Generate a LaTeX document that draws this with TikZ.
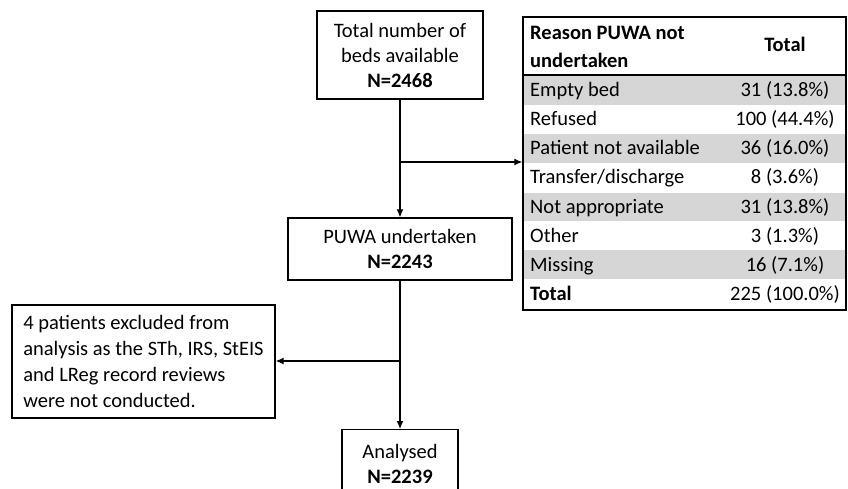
\documentclass[tikz,border=0pt]{standalone}
\usepackage{fontspec}
\setmainfont{Carlito}
\usetikzlibrary{arrows.meta}
\definecolor{rowgray}{RGB}{214,214,214}
\begin{document}
\begin{tikzpicture}[x=1pt,y=-1pt,
  box/.style={draw=black,line width=1.4pt,inner sep=0pt,font=\fontsize{20.5}{25}\selectfont,align=center},
  arr/.style={line width=1.2pt,-{Latex[length=8pt,width=7pt]}},
  cell/.style={font=\fontsize{20.5}{22}\selectfont,inner sep=0pt,text height=14pt,text depth=4pt},
  grayrow/.style={fill=rowgray,draw=none}]
\useasboundingbox (0,0) rectangle (848,489);
\clip (0,0) rectangle (848,489);
% boxes
\node[box,minimum width=166,minimum height=88] (top) at (400,55) {Total number of\\beds available\\\textbf{N=2468}};
\node[box,minimum width=224,minimum height=62] (puwa) at (400,249) {PUWA undertaken\\\textbf{N=2243}};
\node[box,minimum width=263,minimum height=113,align=left,font=\fontsize{20.5}{26}\selectfont] (excl) at (143.5,361.5) {4 patients excluded from\\analysis as the STh, IRS, StEIS\\and LReg record reviews\\were not conducted.};
\node[box,minimum width=116,minimum height=100,anchor=north] (anal) at (400,429) {Analysed\\\textbf{N=2239}\\\strut};
% table
\fill[grayrow] (523,76) rectangle (846,105);
\fill[grayrow] (523,134) rectangle (846,163);
\fill[grayrow] (523,193) rectangle (846,221);
\fill[grayrow] (523,250) rectangle (846,279);
\node[draw=black,line width=1.4pt,minimum width=323,minimum height=293,inner sep=0pt] (tbl) at (684.5,163.5) {};
\draw[line width=1.4pt] (tbl.west |- 0,75) -- (tbl.east |- 0,75);
\node[inner sep=0pt,anchor=west,align=left,font=\fontsize{20.5}{28}\selectfont\bfseries] (h1) at (530,47) {Reason PUWA not\\undertaken};
\node[cell,font=\fontsize{20.5}{22}\selectfont\bfseries] (h2) at (785,47) {Total};
\foreach \n/\y/\a/\b in {r1/91.5/Empty bed/31 (13.8\%),
  r2/120.5/Refused/100 (44.4\%),
  r3/149.5/Patient not available/36 (16.0\%),
  r4/179/Transfer\slash discharge/8 (3.6\%),
  r5/208/Not appropriate/31 (13.8\%),
  r6/237/Other/3 (1.3\%),
  r7/266/Missing/16 (7.1\%)}{
  \node[cell,anchor=west] (\n a) at (530,\y) {\a};
  \node[cell] (\n b) at (785,\y) {\b};
}
\node[cell,anchor=west,font=\fontsize{20.5}{22}\selectfont\bfseries] (r8a) at (530,295.5) {Total};
\node[cell] (r8b) at (785,295.5) {225 (100.0\%)};
% connectors
\coordinate (br) at (400,162);
\coordinate (ex) at (400,361);
\draw[arr] (top.south) -- (puwa.north);
\draw[arr] (br) -- (br -| tbl.west);
\draw[arr] (puwa.south) -- (anal.north);
\draw[arr] (ex) -- (ex -| excl.east);
\end{tikzpicture}
\end{document}
